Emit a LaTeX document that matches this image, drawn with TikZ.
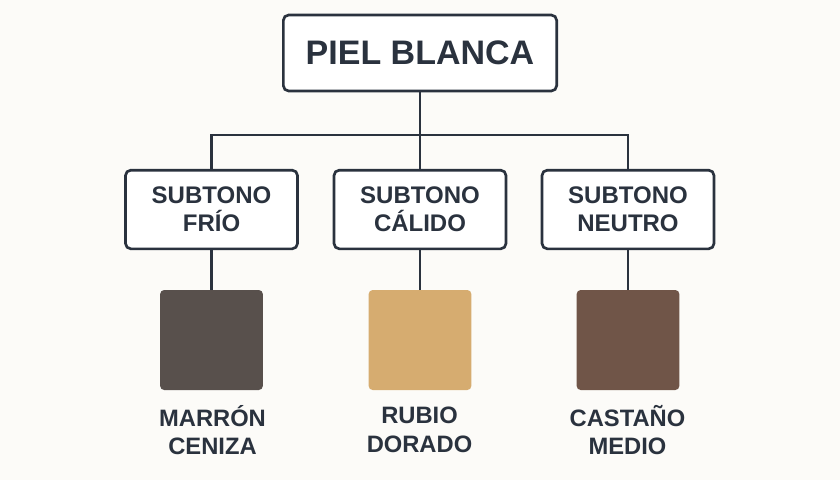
\documentclass[tikz,border=0pt]{standalone}
\usepackage{fontspec}
\setmainfont{Liberation Sans}
\definecolor{bgcol}{RGB}{252,251,248}
\definecolor{inkcol}{RGB}{42,50,62}
\definecolor{ceniza}{RGB}{88,80,76}
\definecolor{dorado}{RGB}{214,172,112}
\definecolor{castano}{RGB}{112,85,72}
\tikzset{every picture/.style={line width=0.75pt}}
\tikzset{
  caja/.style={draw=inkcol,line width=2pt,rounded corners=4pt,fill=white,align=center,
    text=inkcol,font=\fontsize{18}{21}\selectfont\bfseries,minimum width=129pt,minimum height=59pt,inner sep=0pt},
  muestra/.style={rounded corners=3pt,minimum width=77pt,minimum height=75pt,inner sep=0pt},
  rotulo/.style={text=inkcol,align=center,font=\fontsize{17.8}{21.5}\selectfont\bfseries},
  linea/.style={draw=inkcol,line width=2pt}
}
\begin{document}
\begin{tikzpicture}[x=0.75pt,y=0.75pt,yscale=-1,xscale=1]
\fill[bgcol] (0,0) rectangle (840,480);
\useasboundingbox (0,0) rectangle (840,480);

% Titulo
\node[caja,minimum width=205pt,minimum height=57pt,font=\fontsize{25.5}{29}\selectfont\bfseries] (piel) at (420,53) {PIEL BLANCA};

% Subtonos
\node[caja] (frio) at (211.5,209.5) {SUBTONO\\FRÍO};
\node[caja] (calido) at (420,209.5) {SUBTONO\\CÁLIDO};
\node[caja] (neutro) at (628,209.5) {SUBTONO\\NEUTRO};

% Muestras
\node[muestra,fill=ceniza] (sfrio) at (211.5,340) {};
\node[muestra,fill=dorado] (scalido) at (420,340) {};
\node[muestra,fill=castano] (sneutro) at (628,340) {};

% Rotulos
\node[rotulo] (rfrio) at (212.5,430) {MARRÓN\\CENIZA};
\node[rotulo] (rcalido) at (419.5,430) {RUBIO\\DORADO};
\node[rotulo] (rneutro) at (627.5,430) {CASTAÑO\\MEDIO};

% Conectores
\coordinate (nudo) at (420,135);
\draw[linea] (piel.south) -- (nudo);
\draw[linea] (frio.north) |- (nudo) -| (neutro.north);
\draw[linea] (nudo) -- (calido.north);
\draw[linea] (frio.south) -- (sfrio.north);
\draw[linea] (calido.south) -- (scalido.north);
\draw[linea] (neutro.south) -- (sneutro.north);

\end{tikzpicture}
\end{document}
